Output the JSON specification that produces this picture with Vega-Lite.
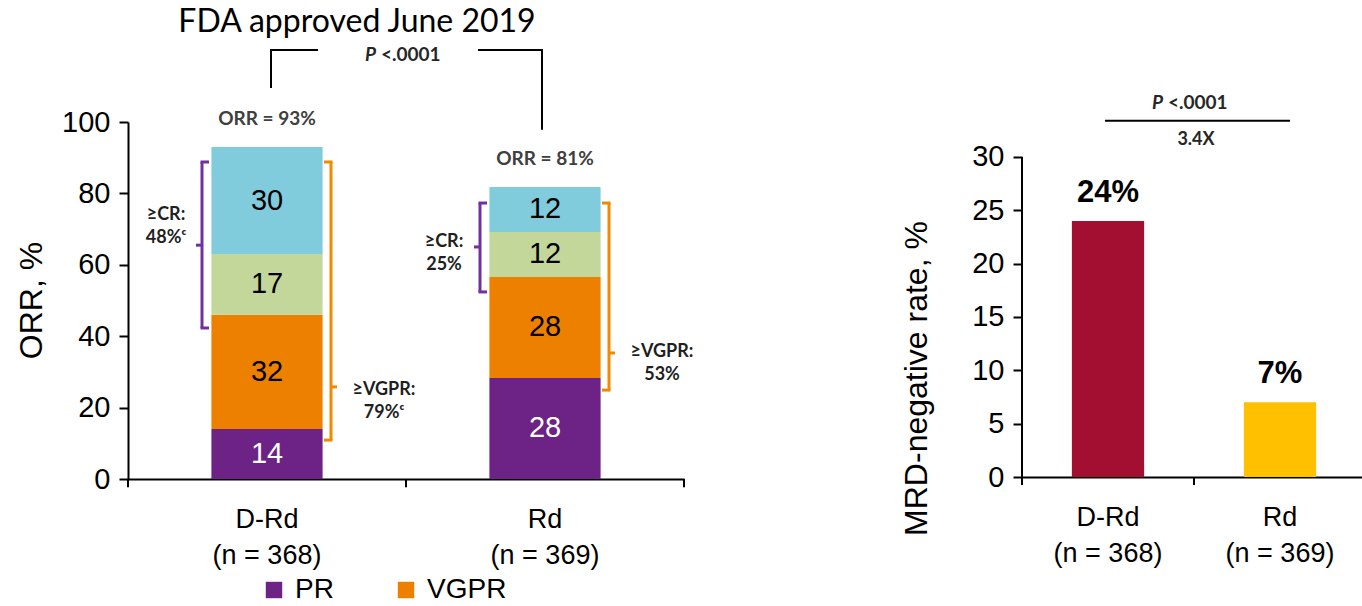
{
 "$schema": "https://vega.github.io/schema/vega-lite/v6.json",
 "padding": {"left": 15, "top": 6, "right": 0, "bottom": 0},
 "background": "white",
 "config": {
  "view": {"stroke": null},
  "font": "Liberation Sans",
  "axis": {"labelColor": "black", "titleColor": "black", "domainColor": "black", "tickColor": "black", "grid": false, "labelFont": "Liberation Sans", "titleFont": "Liberation Sans", "titleFontWeight": "normal"}
 },
 "datasets": {
  "orr": [
   {"group": "D-Rd", "cat": "PR", "ord": 1, "value": 14, "label": "14"},
   {"group": "D-Rd", "cat": "VGPR", "ord": 2, "value": 32, "label": "32"},
   {"group": "D-Rd", "cat": "CR", "ord": 3, "value": 17, "label": "17"},
   {"group": "D-Rd", "cat": "sCR", "ord": 4, "value": 30, "label": "30"},
   {"group": "Rd", "cat": "PR", "ord": 1, "value": 28.3, "label": "28"},
   {"group": "Rd", "cat": "VGPR", "ord": 2, "value": 28.3, "label": "28"},
   {"group": "Rd", "cat": "CR", "ord": 3, "value": 12.6, "label": "12"},
   {"group": "Rd", "cat": "sCR", "ord": 4, "value": 12.6, "label": "12"}
  ],
  "orrTot": [
   {"group": "D-Rd", "orr": 93, "text": "ORR = 93%"},
   {"group": "Rd", "orr": 81.8, "text": "ORR = 81%"}
  ],
  "crBr": [
   {"group": "D-Rd", "top": 88.8, "bottom": 42.3, "spike": 65.5},
   {"group": "Rd", "top": 77.3, "bottom": 52.4, "spike": 65}
  ],
  "vgprBr": [
   {"group": "D-Rd", "top": 88.8, "bottom": 10.9, "spike": 25.8},
   {"group": "Rd", "top": 77.3, "bottom": 24.9, "spike": 35.3}
  ],
  "crTxt": [
   {"group": "D-Rd", "text": "≥CR:\n48%ᶜ", "ypos": 74},
   {"group": "Rd", "text": "≥CR:\n25%", "ypos": 66.5}
  ],
  "vgprTxt": [
   {"group": "D-Rd", "text": "≥VGPR:\n79%ᶜ", "ypos": 25},
   {"group": "Rd", "text": "≥VGPR:\n53%", "ypos": 35.5}
  ],
  "groups": [{"group": "D-Rd"}, {"group": "Rd"}],
  "mrd": [
   {"group": "D-Rd", "rate": 24, "label": "24%"},
   {"group": "Rd", "rate": 7, "label": "7%"}
  ],
  "one": [{}]
 },
 "spacing": 206,
 "resolve": {"scale": {"color": "independent", "x": "independent", "y": "independent"}},
 "hconcat": [
  {
   "width": 556,
   "height": 357,
   "layer": [
    {
     "data": {"name": "orr"},
     "mark": {"type": "bar", "width": {"band": 0.4}},
     "encoding": {
      "x": {"field": "group", "type": "nominal", "scale": {"domain": ["D-Rd", "Rd"], "paddingInner": 0, "paddingOuter": 0},
       "axis": {"title": null, "labelAngle": 0, "ticks": false, "domainWidth": 2, "labelFontSize": 27, "labelPadding": 27, "labelLineHeight": 36,
        "labelExpr": "datum.value == 'D-Rd' ? ['D-Rd', '(n = 368)'] : ['Rd', '(n = 369)']"}},
      "y": {"field": "value", "type": "quantitative", "stack": "zero", "scale": {"domain": [0, 100], "nice": false},
       "axis": {"title": "ORR, %", "values": [0, 20, 40, 60, 80, 100], "tickSize": 9, "tickWidth": 2, "domainWidth": 2, "labelFontSize": 29, "labelPadding": 9,
        "titleFontSize": 32, "titleX": -97, "titleY": 178, "titleAngle": 270, "titleAlign": "center", "titleBaseline": "middle"}},
      "color": {"field": "cat", "type": "nominal",
       "scale": {"domain": ["PR", "VGPR", "CR", "sCR"], "range": ["#6C2385", "#EE8000", "#C4D79B", "#80CCDD"]},
       "legend": {"values": ["PR", "VGPR"], "orient": "none", "legendX": 132, "legendY": 454, "direction": "horizontal", "title": null,
        "symbolType": "square", "symbolSize": 270, "symbolStrokeWidth": 0, "labelFontSize": 28, "labelFont": "Liberation Sans", "labelColor": "black",
        "columnPadding": 58, "labelOffset": 7}},
      "order": {"field": "ord", "type": "quantitative"}
     }
    },
    {
     "data": {"name": "orr"},
     "mark": {"type": "text", "fontSize": 29, "font": "Liberation Sans", "baseline": "middle"},
     "encoding": {
      "x": {"field": "group", "type": "nominal"},
      "y": {"field": "value", "type": "quantitative", "stack": "zero", "bandPosition": 0.5},
      "detail": {"field": "cat"},
      "order": {"field": "ord", "type": "quantitative"},
      "text": {"field": "label"},
      "color": {"condition": {"test": "datum.cat === 'PR'", "value": "white"}, "value": "black"}
     }
    },
    {
     "data": {"name": "orrTot"},
     "mark": {"type": "text", "font": "Lato", "fontWeight": "bold", "fontSize": 19, "color": "#404040", "dy": -28, "baseline": "middle"},
     "encoding": {
      "x": {"field": "group", "type": "nominal"},
      "y": {"field": "orr", "type": "quantitative"},
      "text": {"field": "text"}
     }
    },
    {
     "data": {"name": "crBr"},
     "mark": {"type": "rule", "color": "#7030A0", "strokeWidth": 3, "xOffset": -65},
     "encoding": {"x": {"field": "group", "type": "nominal"}, "y": {"field": "top", "type": "quantitative"}, "y2": {"field": "bottom"}}
    },
    {
     "data": {"name": "crBr"},
     "mark": {"type": "rule", "color": "#7030A0", "strokeWidth": 3, "xOffset": -66.5, "x2Offset": -58},
     "encoding": {"x": {"field": "group", "type": "nominal"}, "x2": {"field": "group"}, "y": {"field": "top", "type": "quantitative"}}
    },
    {
     "data": {"name": "crBr"},
     "mark": {"type": "rule", "color": "#7030A0", "strokeWidth": 3, "xOffset": -66.5, "x2Offset": -58},
     "encoding": {"x": {"field": "group", "type": "nominal"}, "x2": {"field": "group"}, "y": {"field": "bottom", "type": "quantitative"}}
    },
    {
     "data": {"name": "crBr"},
     "mark": {"type": "rule", "color": "#7030A0", "strokeWidth": 3, "xOffset": -65, "x2Offset": -71},
     "encoding": {"x": {"field": "group", "type": "nominal"}, "x2": {"field": "group"}, "y": {"field": "spike", "type": "quantitative"}}
    },
    {
     "data": {"name": "vgprBr"},
     "mark": {"type": "rule", "color": "#F08A00", "strokeWidth": 3, "xOffset": 64},
     "encoding": {"x": {"field": "group", "type": "nominal"}, "y": {"field": "top", "type": "quantitative"}, "y2": {"field": "bottom"}}
    },
    {
     "data": {"name": "vgprBr"},
     "mark": {"type": "rule", "color": "#F08A00", "strokeWidth": 3, "xOffset": 65.5, "x2Offset": 57},
     "encoding": {"x": {"field": "group", "type": "nominal"}, "x2": {"field": "group"}, "y": {"field": "top", "type": "quantitative"}}
    },
    {
     "data": {"name": "vgprBr"},
     "mark": {"type": "rule", "color": "#F08A00", "strokeWidth": 3, "xOffset": 65.5, "x2Offset": 57},
     "encoding": {"x": {"field": "group", "type": "nominal"}, "x2": {"field": "group"}, "y": {"field": "bottom", "type": "quantitative"}}
    },
    {
     "data": {"name": "vgprBr"},
     "mark": {"type": "rule", "color": "#F08A00", "strokeWidth": 3, "xOffset": 64, "x2Offset": 70},
     "encoding": {"x": {"field": "group", "type": "nominal"}, "x2": {"field": "group"}, "y": {"field": "spike", "type": "quantitative"}}
    },
    {
     "data": {"name": "crTxt"},
     "mark": {"type": "text", "font": "Lato", "fontWeight": "bold", "fontSize": 18, "color": "#1F1F1F", "lineBreak": "\n", "lineHeight": 23, "xOffset": -101, "baseline": "middle"},
     "encoding": {"x": {"field": "group", "type": "nominal"}, "y": {"field": "ypos", "type": "quantitative"}, "text": {"field": "text"}}
    },
    {
     "data": {"name": "vgprTxt"},
     "mark": {"type": "text", "font": "Lato", "fontWeight": "bold", "fontSize": 18, "color": "#1F1F1F", "lineBreak": "\n", "lineHeight": 23, "xOffset": 117, "baseline": "middle"},
     "encoding": {"x": {"field": "group", "type": "nominal"}, "y": {"field": "ypos", "type": "quantitative"}, "text": {"field": "text"}}
    },
    {
     "data": {"name": "one"},
     "mark": {"type": "rule", "color": "black", "strokeWidth": 2, "xOffset": 4},
     "encoding": {"x": {"datum": "D-Rd", "type": "nominal"}, "y": {"datum": 109.5, "type": "quantitative"}, "y2": {"datum": 120.2}}
    },
    {
     "data": {"name": "one"},
     "mark": {"type": "rule", "color": "black", "strokeWidth": 2, "xOffset": 3, "x2Offset": 51},
     "encoding": {"x": {"datum": "D-Rd", "type": "nominal"}, "x2": {"datum": "D-Rd"}, "y": {"datum": 120.2, "type": "quantitative"}}
    },
    {
     "data": {"name": "one"},
     "mark": {"type": "rule", "color": "black", "strokeWidth": 2, "xOffset": -67, "x2Offset": -2},
     "encoding": {"x": {"datum": "Rd", "type": "nominal"}, "x2": {"datum": "Rd"}, "y": {"datum": 120.2, "type": "quantitative"}}
    },
    {
     "data": {"name": "one"},
     "mark": {"type": "rule", "color": "black", "strokeWidth": 2, "xOffset": -3},
     "encoding": {"x": {"datum": "Rd", "type": "nominal"}, "y": {"datum": 97.8, "type": "quantitative"}, "y2": {"datum": 120.2}}
    },
    {
     "data": {"name": "one"},
     "mark": {"type": "text", "font": "Lato", "fontWeight": "bold", "fontStyle": "italic", "fontSize": 19, "color": "#262626", "align": "left", "baseline": "middle", "xOffset": 98},
     "encoding": {"x": {"datum": "D-Rd", "type": "nominal"}, "y": {"datum": 118.8, "type": "quantitative"}, "text": {"value": "P"}}
    },
    {
     "data": {"name": "one"},
     "mark": {"type": "text", "font": "Lato", "fontWeight": "bold", "fontSize": 19, "color": "#262626", "align": "left", "baseline": "middle", "xOffset": 114},
     "encoding": {"x": {"datum": "D-Rd", "type": "nominal"}, "y": {"datum": 118.8, "type": "quantitative"}, "text": {"value": "<.0001"}}
    },
    {
     "data": {"name": "one"},
     "mark": {"type": "text", "font": "Lato", "fontSize": 32, "color": "black", "align": "center", "baseline": "middle", "xOffset": 90},
     "encoding": {"x": {"datum": "D-Rd", "type": "nominal"}, "y": {"datum": 128, "type": "quantitative"}, "text": {"value": "FDA approved June 2019"}}
    },
    {
     "data": {"name": "groups"},
     "mark": {"type": "rule", "color": "black", "strokeWidth": 2},
     "encoding": {"x": {"field": "group", "type": "nominal", "bandPosition": 0}, "y": {"datum": 0, "type": "quantitative"}, "y2": {"datum": -2.3}}
    },
    {
     "data": {"name": "one"},
     "mark": {"type": "rule", "color": "black", "strokeWidth": 2},
     "encoding": {"x": {"datum": "Rd", "type": "nominal", "bandPosition": 1}, "y": {"datum": 0, "type": "quantitative"}, "y2": {"datum": -2.3}}
    }
   ]
  },
  {
   "width": 344,
   "height": 355,
   "layer": [
    {
     "data": {"name": "mrd"},
     "mark": {"type": "bar", "width": {"band": 0.42}},
     "encoding": {
      "x": {"field": "group", "type": "nominal", "scale": {"domain": ["D-Rd", "Rd"], "paddingInner": 0, "paddingOuter": 0},
       "axis": {"title": null, "labelAngle": 0, "ticks": false, "domainWidth": 2, "labelFontSize": 27, "labelPadding": 27, "labelLineHeight": 36,
        "labelExpr": "datum.value == 'D-Rd' ? ['D-Rd', '(n = 368)'] : ['Rd', '(n = 369)']"}},
      "y": {"field": "rate", "type": "quantitative", "scale": {"domain": [0, 33.28], "nice": false},
       "axis": {"title": "MRD-negative rate, %", "values": [0, 5, 10, 15, 20, 25, 30], "domain": false, "tickSize": 9, "tickWidth": 2, "labelFontSize": 29, "labelPadding": 9,
        "titleFontSize": 32, "titleX": -106, "titleY": 256, "titleAngle": 270, "titleAlign": "center", "titleBaseline": "middle"}},
      "color": {"field": "group", "type": "nominal", "scale": {"domain": ["D-Rd", "Rd"], "range": ["#A20F31", "#FFC000"]}, "legend": null}
     }
    },
    {
     "data": {"name": "mrd"},
     "mark": {"type": "text", "font": "Liberation Sans", "fontWeight": "bold", "fontSize": 31, "dy": -28, "baseline": "middle", "color": "black"},
     "encoding": {"x": {"field": "group", "type": "nominal"}, "y": {"field": "rate", "type": "quantitative"}, "text": {"field": "label"}}
    },
    {
     "data": {"name": "one"},
     "mark": {"type": "rule", "color": "black", "strokeWidth": 2},
     "encoding": {"x": {"datum": "D-Rd", "type": "nominal", "bandPosition": 0}, "y": {"datum": 0, "type": "quantitative"}, "y2": {"datum": 30}}
    },
    {
     "data": {"name": "groups"},
     "mark": {"type": "rule", "color": "black", "strokeWidth": 2},
     "encoding": {"x": {"field": "group", "type": "nominal", "bandPosition": 0}, "y": {"datum": 0, "type": "quantitative"}, "y2": {"datum": -0.75}}
    },
    {
     "data": {"name": "one"},
     "mark": {"type": "rule", "color": "black", "strokeWidth": 2, "xOffset": -3, "x2Offset": 10},
     "encoding": {"x": {"datum": "D-Rd", "type": "nominal"}, "x2": {"datum": "Rd"}, "y": {"datum": 33.4, "type": "quantitative"}}
    },
    {
     "data": {"name": "one"},
     "mark": {"type": "text", "font": "Lato", "fontWeight": "bold", "fontStyle": "italic", "fontSize": 19, "color": "#262626", "align": "left", "baseline": "middle", "xOffset": 44},
     "encoding": {"x": {"datum": "D-Rd", "type": "nominal"}, "y": {"datum": 35.1, "type": "quantitative"}, "text": {"value": "P"}}
    },
    {
     "data": {"name": "one"},
     "mark": {"type": "text", "font": "Lato", "fontWeight": "bold", "fontSize": 19, "color": "#262626", "align": "left", "baseline": "middle", "xOffset": 60},
     "encoding": {"x": {"datum": "D-Rd", "type": "nominal"}, "y": {"datum": 35.1, "type": "quantitative"}, "text": {"value": "<.0001"}}
    },
    {
     "data": {"name": "one"},
     "mark": {"type": "text", "font": "Lato", "fontWeight": "bold", "fontSize": 18, "color": "#262626", "align": "center", "baseline": "middle", "xOffset": 88},
     "encoding": {"x": {"datum": "D-Rd", "type": "nominal"}, "y": {"datum": 31.6, "type": "quantitative"}, "text": {"value": "3.4X"}}
    }
   ]
  }
 ]
}
